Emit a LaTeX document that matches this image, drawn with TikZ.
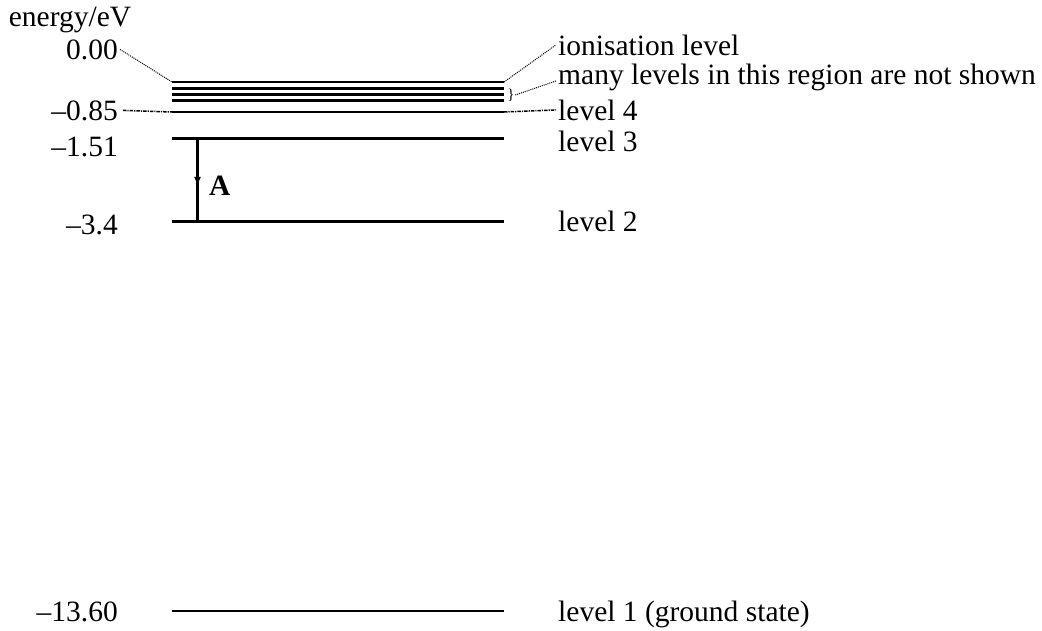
\documentclass[tikz,border=0pt]{standalone}
\usepackage{fontspec}
\setmainfont{Liberation Serif}
\usetikzlibrary{decorations.markings,arrows.meta}
\begin{document}
\begin{tikzpicture}[x=1pt,y=-1pt,
  lab/.style={font=\fontsize{29.5}{34}\selectfont, inner sep=2pt},
  level/.style={line width=2.7pt},
  leader/.style={line width=1pt, dash pattern=on 1pt off 1pt},
  dashdot/.style={line width=1.5pt, dash pattern=on 3.5pt off 1pt on 1.2pt off 1pt},
  transition/.style={line width=2.2pt,
    postaction={decorate},
    decoration={markings, mark=at position 0.58 with {\arrow{Latex[length=10pt,width=7pt]}}}}
]
\useasboundingbox (0,0) rectangle (1042,630);

% level end points
\coordinate (I0l) at (172,82);  \coordinate (I0r) at (504,82);
\coordinate (Ial) at (172,88.5); \coordinate (Iar) at (504,88.5);
\coordinate (Ibl) at (172,94.5); \coordinate (Ibr) at (504,94.5);
\coordinate (Icl) at (172,100.5); \coordinate (Icr) at (504,100.5);
\coordinate (L4l) at (172,112); \coordinate (L4r) at (504,112);
\coordinate (L3l) at (172,138.7); \coordinate (L3r) at (504,138.7);
\coordinate (L2l) at (172,221.7); \coordinate (L2r) at (504,221.7);
\coordinate (L1l) at (172,611); \coordinate (L1r) at (504,611);
\coordinate (A3) at (197.5,138.7); \coordinate (A2) at (197.5,221.7);

\foreach \a/\b in {I0l/I0r,Ial/Iar,Ibl/Ibr,Icl/Icr,L4l/L4r,L3l/L3r,L2l/L2r,L1l/L1r}
  \draw[level] (\a) -- (\b);

% left labels
\node[lab, anchor=base] (ev) at (70,26) {energy/eV};
\node[lab, anchor=base east] (e0) at (120,59) {0.00};
\node[lab, anchor=base east] (e4) at (120,120) {–0.85};
\node[lab, anchor=base east] (e3) at (120,156) {–1.51};
\node[lab, anchor=base east] (e2) at (120,234) {–3.4};
\node[lab, anchor=base east] (e1) at (120,621) {–13.60};

% right labels
\node[lab, anchor=base west] (ion) at (556,55) {ionisation level};
\node[lab, anchor=base west] (many) at (556,84) {many levels in this region are not shown};
\node[lab, anchor=base west] (t4) at (556,120) {level 4};
\node[lab, anchor=base west] (t3) at (556,151) {level 3};
\node[lab, anchor=base west] (t2) at (556,231) {level 2};
\node[lab, anchor=base west] (t1) at (556,621) {level 1 (ground state)};

% brace
\node[font=\fontsize{15}{15}\selectfont, inner sep=0.5pt] (br) at (511,95) {\}};

% leaders
\draw[leader] (e0.east) -- (I0l);
\draw[dashdot] ([xshift=3pt]e4.east) -- (L4l);
\draw[leader] (I0r) -- (ion.west);
\draw[leader] (br.east) -- ([yshift=-4pt]many.west);
\draw[dashdot] (L4r) -- (t4.west);

% transition A
\draw[transition] (A3) -- (A2);
\node[lab, anchor=base west, font=\fontsize{29.5}{34}\selectfont\bfseries] (A) at (207,195) {A};
\end{tikzpicture}
\end{document}
